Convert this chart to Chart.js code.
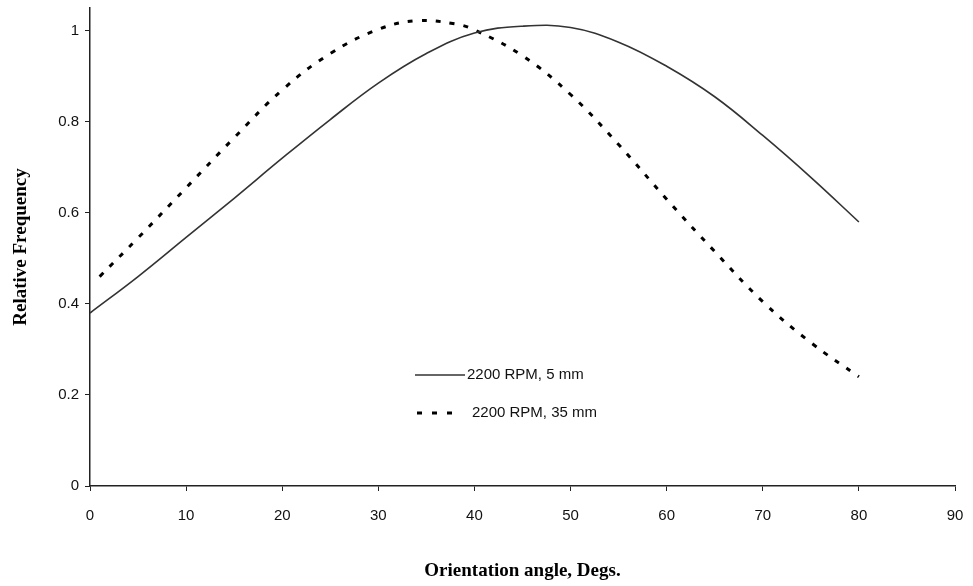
<!DOCTYPE html>
<html>
<head>
<meta charset="utf-8">
<script src="https://cdn.jsdelivr.net/npm/chart.js@4"></script>
<style>
  html, body { margin: 0; padding: 0; background: #fff; }
  #wrap { width: 973px; height: 586px; }
</style>
</head>
<body>
<div id="wrap"><canvas id="freqChart"></canvas></div>
<script>
// angle (deg) and relative frequency
const angles5mm  = [0, 5, 10, 15, 20, 25, 30, 35, 40, 45, 50, 55, 60, 65, 70, 75, 80];
const freq5mm    = [0.38, 0.46, 0.546, 0.632, 0.72, 0.805, 0.885, 0.95, 0.995, 1.01, 1.007, 0.975, 0.922, 0.855, 0.77, 0.678, 0.58];
const angles35mm = [1, 5, 10, 15, 20, 25, 30, 34, 38, 40, 45, 50, 55, 60, 65, 70, 75, 80];
const freq35mm   = [0.46, 0.545, 0.655, 0.765, 0.87, 0.95, 1.003, 1.022, 1.015, 1.002, 0.945, 0.86, 0.75, 0.63, 0.515, 0.405, 0.315, 0.24];
const xTicks = [0, 10, 20, 30, 40, 50, 60, 70, 80, 90];
const yTicks = [0, 0.2, 0.4, 0.6, 0.8, 1];
const seriesNames = ['2200 RPM, 5 mm', '2200 RPM, 35 mm'];

const toPoints = (xs, ys) => xs.map((x, i) => ({ x: x, y: ys[i] }));

// legend sits inside the plot, like the original
const insideLegend = {
    id: 'insideLegend',
    afterDraw(chart) {
        const ctx = chart.ctx;
        const rows = [
            { y: 375, x0: 415, x1: 465, dash: [], width: 1.6, color: '#333', tx: 467 },
            { y: 413, x0: 417, x1: 462, dash: [5, 10], width: 3, color: '#000', tx: 472 }
        ];
        ctx.save();
        ctx.font = '15px "Liberation Sans", Arial, sans-serif';
        ctx.textBaseline = 'middle';
        ctx.fillStyle = '#111';
        rows.forEach((r, i) => {
            ctx.beginPath();
            ctx.setLineDash(r.dash);
            ctx.lineWidth = r.width;
            ctx.strokeStyle = r.color;
            ctx.moveTo(r.x0, r.y);
            ctx.lineTo(r.x1, r.y);
            ctx.stroke();
            ctx.fillText(seriesNames[i], r.tx, r.y);
        });
        ctx.restore();
    }
};

const tickFont  = { family: '"Liberation Sans", Arial, sans-serif', size: 15 };
const titleFont = { family: '"Liberation Serif", "Times New Roman", serif', size: 19, weight: 'bold' };

new Chart(document.getElementById('freqChart').getContext('2d'), {
    type: 'line',
    data: {
        datasets: [{
            label: seriesNames[0],
            data: toPoints(angles5mm, freq5mm),
            borderColor: '#333',
            borderWidth: 1.6,
            pointRadius: 0,
            tension: 0.4,
            fill: false
        }, {
            label: seriesNames[1],
            data: toPoints(angles35mm, freq35mm),
            borderColor: '#000',
            borderWidth: 3,
            borderDash: [5, 9],
            pointRadius: 0,
            tension: 0.4,
            fill: false
        }]
    },
    options: {
        responsive: true,
        maintainAspectRatio: false,
        animation: false,
        layout: { padding: { top: 8, right: 18, left: 0, bottom: 0 } },
        plugins: {
            legend: { display: false },
            tooltip: { enabled: false }
        },
        scales: {
            x: {
                type: 'linear',
                min: 0, max: 90,
                afterBuildTicks: axis => { axis.ticks = xTicks.map(v => ({ value: v })); },
                afterFit: axis => { axis.height = 100; axis.paddingRight = 0; },
                grid: { display: true, drawOnChartArea: false, drawTicks: true, tickLength: 5, color: '#222' },
                border: { color: '#222', width: 1.5 },
                ticks: { color: '#111', padding: 16, font: tickFont },
                title: {
                    display: true,
                    text: 'Orientation angle, Degs.',
                    color: '#000',
                    padding: { top: 26 },
                    font: titleFont
                }
            },
            y: {
                min: 0, max: 1.05,
                afterBuildTicks: axis => { axis.ticks = yTicks.map(v => ({ value: v })); },
                afterFit: axis => { axis.width = 90; axis.paddingTop = 0; axis.paddingBottom = 0; },
                grid: { display: true, drawOnChartArea: false, drawTicks: true, tickLength: 5, color: '#222' },
                border: { color: '#222', width: 1.5 },
                ticks: { color: '#111', padding: 6, font: tickFont, callback: v => String(Math.round(v * 10) / 10) },
                title: {
                    display: true,
                    text: 'Relative Frequency',
                    color: '#000',
                    padding: { top: 10, bottom: 0 },
                    font: titleFont
                }
            }
        }
    },
    plugins: [insideLegend]
});
</script>
</body>
</html>
